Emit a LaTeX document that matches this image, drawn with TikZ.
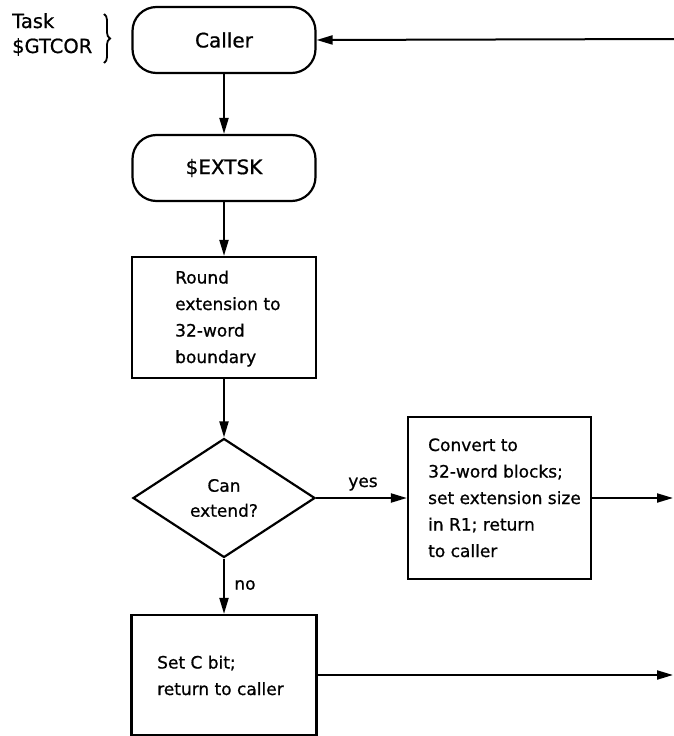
\documentclass[tikz,border=0pt]{standalone}
\usepackage{fontspec}
\setmainfont[FakeBold=0.8]{DejaVu Sans}
\usetikzlibrary{shapes.geometric,arrows.meta,decorations.pathreplacing}
\begin{document}
\begin{tikzpicture}[x=1pt,y=-1pt,
  conn/.style={line width=2pt,-{Triangle[length=16pt,width=9pt]}},
  procbox/.style={draw,line width=2.2pt,rectangle,inner sep=0pt},
  term/.style={draw,line width=2.2pt,rectangle,rounded corners=24pt,minimum width=183pt,minimum height=66pt,inner sep=0pt},
  txt/.style={font=\fontsize{17}{26.5}\selectfont,inner sep=0pt,align=left,anchor=base west},
  lbl/.style={font=\fontsize{17}{20}\selectfont,inner sep=0pt},
]
\useasboundingbox (0,0) rectangle (674,736);
\node[term] (caller) at (224,40) {\fontsize{20}{22}\selectfont Caller};
\node[term] (extsk) at (224,168) {\fontsize{20}{22}\selectfont \$EXTSK};
\node[procbox,minimum width=184pt,minimum height=121pt] (round) at (224,317.5) {};
\node[txt] (roundt) at (175,363) {Round\\extension to\\32-word\\boundary};
\node[draw,diamond,line width=2.2pt,minimum width=182pt,minimum height=119pt,inner sep=0pt,align=center,font=\fontsize{17}{25}\selectfont] (can) at (224,498) {Can\\extend?};
\node[procbox,minimum width=183pt,minimum height=162pt] (conv) at (499.5,498) {};
\node[txt] (convt) at (428,557) {Convert to\\32-word blocks;\\set extension size\\in R1; return\\to caller};
\node[procbox,minimum width=185pt,minimum height=120pt] (setc) at (224,675) {};
\node[txt] (setct) at (157,695) {Set C bit;\\return to caller};
\node[lbl] (yes) at (363,484) {yes};
\node[lbl] (no) at (245,585) {no};
\node[font=\fontsize{19.5}{25}\selectfont,inner sep=0pt,align=left,anchor=base west] (task) at (12,53) {Task\\\$GTCOR};
\draw[decorate,decoration={brace,amplitude=6pt},line width=1.8pt] (104,14) -- (104,63);
\coordinate (outA) at (673,498);
\coordinate (outB) at (673,675);
\coordinate (back) at (674,39);
\draw[conn] (caller.south) -- (extsk.north);
\draw[conn] (extsk.south) -- (round.north);
\draw[conn] (round.south) -- (can.north);
\draw[conn] (can.east) -- (conv.west);
\draw[conn] (can.south) -- (setc.north);
\draw[conn] (conv.east) -- (outA);
\draw[conn] (setc.east) -- (outB);
\draw[conn] (back) -- (caller.east);
\end{tikzpicture}
\end{document}
